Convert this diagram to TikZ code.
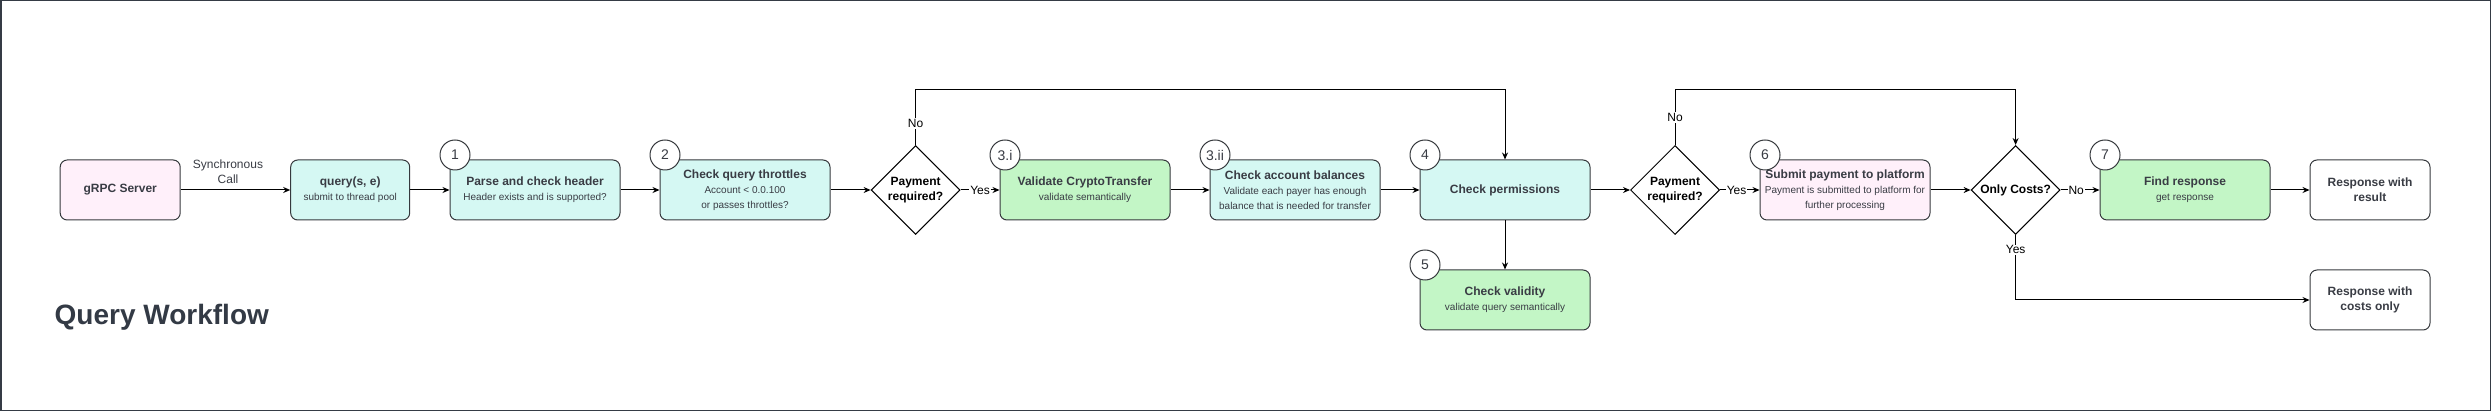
\documentclass[tikz,border=0pt]{standalone}
\usepackage{fontspec}
\setmainfont{Liberation Sans}
\usetikzlibrary{shapes.geometric,arrows.meta}
\definecolor{strk}{HTML}{36393D}
\definecolor{txt}{HTML}{393C44}
\definecolor{pinkf}{HTML}{FFF0FA}
\definecolor{cyanf}{HTML}{D5F8F3}
\definecolor{greenf}{HTML}{C3F6C6}
\definecolor{framec}{HTML}{353B45}
\definecolor{titlec}{HTML}{333A45}
\newcommand\boxtitle[1]{{\fontsize{12}{15}\selectfont\bfseries #1}}
\begin{document}
\begin{tikzpicture}[x=1pt,y=-1pt,
 box/.style={draw=strk, line width=1pt, rounded corners=7pt, minimum height=60pt, inner sep=2pt, align=center, text=txt, font=\fontsize{10}{15}\selectfont},
 wbox/.style={box, minimum width=120pt},
 lbox/.style={box, minimum width=170pt},
 dec/.style={diamond, draw=black, line width=1pt, minimum width=89pt, minimum height=89pt, inner sep=0pt, align=center, font=\fontsize{12}{14.3}\selectfont\bfseries, fill=white},
 num/.style={circle, draw=strk, fill=white, line width=1pt, minimum size=30pt, inner sep=0pt, font=\fontsize{14}{16}\selectfont, text=txt},
 arr/.style={draw=black, line width=1pt, -{Stealth[length=7pt,width=6pt]}},
 lbl/.style={fill=white, inner sep=1pt, font=\fontsize{12}{14}\selectfont, text=black},
 resp/.style={wbox, font=\fontsize{12}{14.6}\selectfont\bfseries},
]
\useasboundingbox (0,0) rectangle (2491,411);
\draw[framec, line width=1.5pt] (0.75,0.75) rectangle (2490.25,410.25);

\node[anchor=base west, text=titlec, font=\fontsize{28}{32}\selectfont\bfseries, inner sep=0pt] (title) at (54.5,325) {Query Workflow};

% boxes
\node[wbox, fill=pinkf, minimum width=120pt] (grpc) at (120.2,190) {\boxtitle{gRPC Server}};
\node[wbox, fill=cyanf, minimum width=119pt] (query) at (350.2,190) {\boxtitle{query(s, e)}\\submit to thread pool};
\node[lbox, fill=cyanf] (parse) at (535,190) {\boxtitle{Parse and check header}\\Header exists and is supported?};
\node[lbox, fill=cyanf] (throt) at (745,190) {\boxtitle{Check query throttles}\\Account {\char`\<} 0.0.100\\or passes throttles?};
\node[dec] (d1) at (915.6,190) {Payment\\required?};
\node[lbox, fill=greenf] (valid) at (1085,190) {\boxtitle{Validate CryptoTransfer}\\validate semantically};
\node[lbox, fill=cyanf] (bal) at (1295,190) {\boxtitle{Check account balances}\\Validate each payer has enough\\balance that is needed for transfer};
\node[lbox, fill=cyanf] (perm) at (1505,190) {\boxtitle{Check permissions}};
\node[lbox, fill=greenf] (vali) at (1505,300) {\boxtitle{Check validity}\\validate query semantically};
\node[dec] (d2) at (1675,190) {Payment\\required?};
\node[lbox, fill=pinkf] (sub) at (1845,190) {\boxtitle{Submit payment to platform}\\Payment is submitted to platform for\\further processing};
\node[dec] (d3) at (2015.6,190) {Only Costs?};
\node[lbox, fill=greenf] (find) at (2185,190) {\boxtitle{Find response}\\get response};
\node[resp, fill=white] (res) at (2370,190) {Response with\\result};
\node[resp, fill=white] (cost) at (2370,300) {Response with\\costs only};

% number circles
\node[num] (n1) at (455,155) {1};
\node[num] (n2) at (665,155) {2};
\node[num] (n3i) at (1005,155) {3.i};
\node[num] (n3ii) at (1215,155) {3.ii};
\node[num] (n4) at (1425,155) {4};
\node[num] (n5) at (1425,265) {5};
\node[num] (n6) at (1765,155) {6};
\node[num] (n7) at (2105,155) {7};

% connectors
\node[font=\fontsize{12}{15}\selectfont, text=txt, align=center] (sync) at (228,171.5) {Synchronous\\Call};
\draw[arr] (grpc) -- (query);
\draw[arr] (query) -- (parse);
\draw[arr] (parse) -- (throt);
\draw[arr] (throt) -- (d1);
\draw[arr] (d1.east) -- node[lbl, pos=0.5]{Yes} (valid.west);
\draw[arr] (valid) -- (bal);
\draw[arr] (bal) -- (perm);
\coordinate (t1) at (915.6,90);
\draw[arr] (d1.north) -- node[lbl, pos=0.39]{No} (t1) -| (perm.north);
\draw[arr] (perm) -- (vali);
\draw[arr] (perm.east) -- (d2.west);
\draw[arr] (d2.east) -- node[lbl, pos=0.42]{Yes} (sub.west);
\coordinate (t2) at (1675,90);
\draw[arr] (d2.north) -- node[lbl, pos=0.5]{No} (t2) -| (d3.north);
\draw[arr] (sub.east) -- (d3.west);
\draw[arr] (d3.east) -- node[lbl, pos=0.4]{No} (find.west);
\draw[arr] (find) -- (res);
\draw[arr] (d3.south) |- node[lbl, pos=0.113]{Yes} (cost.west);
\end{tikzpicture}
\end{document}
